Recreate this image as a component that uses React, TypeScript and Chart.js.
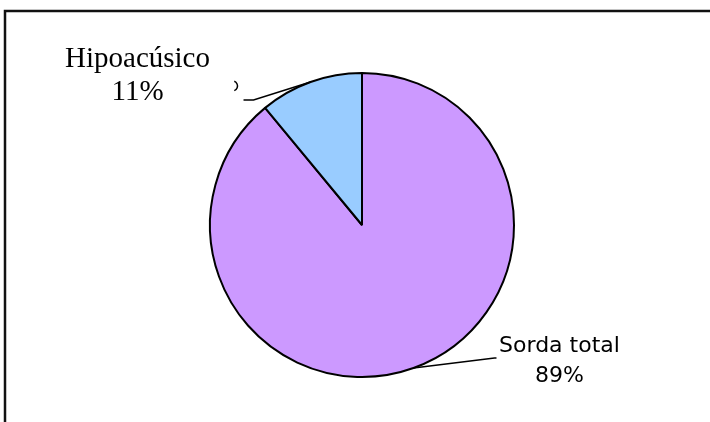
import React, { useEffect, useRef } from "react";
import { Chart, registerables } from "chart.js";

Chart.register(...registerables);

const categories = ["Sorda total", "Hipoacúsico"];
const values = [89, 11];
const percentLabels = ["89%", "11%"];
const sliceColors = ["#CC99FF", "#99CCFF"];

// label layout (relative to the slice edge point at mid-angle)
const labelLayouts = [
  { elbow: [81, -10], end: [83, -10], text: [146, -16], font: "22px 'DejaVu Sans'", lineGap: 30 },
  { elbow: [-57, 18], end: [-67, 18], text: [-173, -15], font: "29px 'Liberation Serif', 'Times New Roman', serif", lineGap: 33 },
];

const framePlugin = {
  id: "frame",
  beforeDraw(chart: any) {
    const ctx = chart.ctx;
    ctx.save();
    ctx.fillStyle = "#ffffff";
    ctx.fillRect(0, 0, chart.width, chart.height);
    ctx.strokeStyle = "#111111";
    ctx.lineWidth = 2.5;
    ctx.beginPath();
    ctx.moveTo(5, chart.height + 5);
    ctx.lineTo(5, 11);
    ctx.lineTo(chart.width + 5, 11);
    ctx.stroke();
    ctx.restore();
  },
};

const labelPlugin = {
  id: "sliceLabels",
  afterDraw(chart: any) {
    const ctx = chart.ctx;
    const meta = chart.getDatasetMeta(0);
    ctx.save();
    meta.data.forEach((arc: any, i: number) => {
      const lay = labelLayouts[i];
      const mid = (arc.startAngle + arc.endAngle) / 2;
      const px = arc.x + Math.cos(mid) * arc.outerRadius;
      const py = arc.y + Math.sin(mid) * arc.outerRadius;
      ctx.strokeStyle = "#000";
      ctx.lineWidth = 1.5;
      ctx.beginPath();
      ctx.moveTo(px, py);
      ctx.lineTo(px + lay.elbow[0], py + lay.elbow[1]);
      ctx.lineTo(px + lay.end[0], py + lay.end[1]);
      ctx.stroke();
      if (i === 1) {
        ctx.beginPath();
        ctx.arc(px - 78, py + 4, 5, -Math.PI / 2.6, Math.PI / 2.6);
        ctx.stroke();
      }
      ctx.fillStyle = "#000";
      ctx.font = lay.font;
      ctx.textAlign = "center";
      ctx.textBaseline = "alphabetic";
      const tx = px + lay.text[0];
      const ty = py + lay.text[1];
      ctx.fillText(categories[i], tx, ty);
      ctx.fillText(percentLabels[i], tx, ty + lay.lineGap);
    });
    ctx.restore();
  },
};

export default function App() {
  const ref = useRef<HTMLCanvasElement | null>(null);
  useEffect(() => {
    if (!ref.current) return;
    const chart = new Chart(ref.current, {
      type: "pie",
      data: {
        labels: categories,
        datasets: [
          {
            data: values,
            backgroundColor: sliceColors,
            borderColor: "#000000",
            borderWidth: 2,
          },
        ],
      },
      options: {
        responsive: false,
        animation: false,
        devicePixelRatio: 1,
        layout: { padding: { left: 209, right: 195, top: 72, bottom: 44 } },
        plugins: {
          legend: { display: false },
          tooltip: { enabled: false },
        },
      },
      plugins: [framePlugin, labelPlugin],
    });
    return () => chart.destroy();
  }, []);
  return (
    <div style={{ position: "fixed", left: 0, top: 0, width: 710, height: 422, background: "#fff" }}>
      <canvas ref={ref} width={710} height={422} style={{ display: "block" }} />
    </div>
  );
}
